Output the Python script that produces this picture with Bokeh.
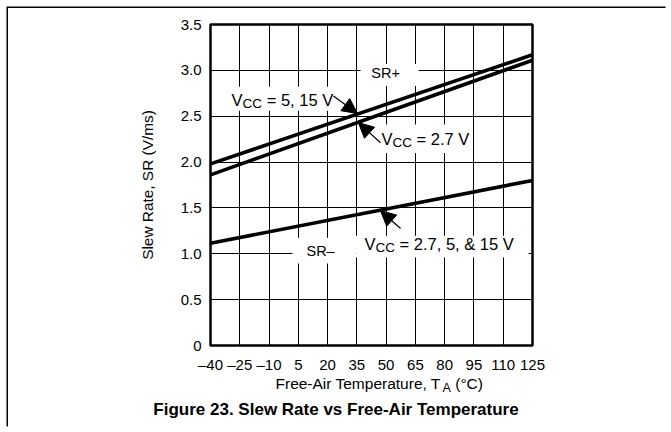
from bokeh.plotting import figure
from bokeh.models import FixedTicker, Label, Arrow, NormalHead, Column
from bokeh.embed import file_html
from bokeh.resources import INLINE

# ---------------- data ----------------
temps = [-40, 125]
sr_plus_5_15 = [1.98, 3.17]
sr_plus_2_7 = [1.86, 3.11]
sr_minus = [1.115, 1.80]

x_ticks = [-40, -25, -10, 5, 20, 35, 50, 65, 80, 95, 110, 125]
x_tick_labels = ["\u201340", "\u201325", "\u201310", "5", "20", "35", "50", "65", "80", "95", "110", "125"]
y_ticks = [0, 0.5, 1.0, 1.5, 2.0, 2.5, 3.0, 3.5]
y_tick_labels = ["0", "0.5", "1.0", "1.5", "2.0", "2.5", "3.0", "3.5"]

title_text = "Figure 23. Slew Rate vs Free-Air Temperature"
y_label = "Slew Rate, SR (V/ms)"

# ---------------- style / layout ----------------
FONT = "Liberation Sans"
W = 659
H1, H2 = 367, 53
TICK_FS = 15
AX_FS = 15.5
AX_SUB_FS = 12.5
YLAB_FS = 15.4
LAB_FS = 16.5
SUB_FS = 13.5
SR_FS = 14.5

# approximate Arial advance widths (1/1000 em)
AW = {" ": 278, "!": 278, "(": 333, ")": 333, ",": 278, "-": 333, ".": 278, "/": 278,
      "=": 584, "+": 584, "&": 667, "\u2013": 556, "\u00b0": 400,
      "A": 667, "C": 722, "F": 611, "R": 722, "S": 667, "T": 611, "V": 667,
      "a": 556, "e": 556, "i": 222, "l": 222, "m": 833, "p": 556, "r": 333,
      "s": 500, "t": 278, "u": 556, "w": 722}


def tw(s, size):
    return sum(AW.get(c, 556) for c in s) / 1000.0 * size


def composite(fig, x, y, pieces, align="left", sub_dy=-4):
    total = sum(tw(t, s) for t, s, _ in pieces)
    cur = 0.0 if align == "left" else -total / 2.0
    for txt, size, is_sub in pieces:
        lead = len(txt) - len(txt.lstrip(" "))
        cur += tw(" " * lead, size)
        core = txt.strip(" ")
        fig.add_layout(Label(x=x, y=y, x_offset=cur, y_offset=(sub_dy if is_sub else 0),
                             text=core, text_font=FONT, text_font_size=f"{size}px",
                             text_baseline="middle", text_align="left",
                             text_color="black"))
        cur += tw(txt.lstrip(" "), size)


# ---------------- main chart ----------------
p = figure(width=W, height=H1, x_range=(-40, 125), y_range=(0, 3.5),
           output_backend="svg", toolbar_location=None,
           min_border_left=202, min_border_right=W - 524,
           min_border_top=16, min_border_bottom=H1 - 337)
p.frame_align = False

p.outline_line_color = "black"
p.outline_line_width = 2.5
p.background_fill_color = "white"
p.border_fill_color = "white"

p.xaxis.ticker = FixedTicker(ticks=x_ticks)
p.yaxis.ticker = FixedTicker(ticks=y_ticks)
p.xgrid.ticker = FixedTicker(ticks=x_ticks)
p.ygrid.ticker = FixedTicker(ticks=y_ticks)
p.xaxis.major_label_overrides = dict(zip(x_ticks, x_tick_labels))
p.yaxis.major_label_overrides = dict(zip(y_ticks, y_tick_labels))

for ax in (p.xaxis[0], p.yaxis[0]):
    ax.axis_line_color = None
    ax.major_tick_line_color = None
    ax.minor_tick_line_color = None
    ax.major_tick_out = 0
    ax.major_tick_in = 0
    ax.minor_tick_out = 0
    ax.minor_tick_in = 0
    ax.major_label_text_font = FONT
    ax.major_label_text_font_size = f"{TICK_FS}px"
    ax.major_label_text_color = "black"
    ax.axis_label_text_font = FONT
    ax.axis_label_text_font_style = "normal"
    ax.axis_label_text_font_size = f"{YLAB_FS}px"
    ax.axis_label_text_color = "black"

p.xaxis.major_label_standoff = 10
p.yaxis.major_label_standoff = 9
p.yaxis.axis_label = y_label
p.yaxis.axis_label_standoff = 22

p.grid.grid_line_color = "black"
p.grid.grid_line_width = 1
p.grid.grid_line_alpha = 1

# white label backgrounds (data coords): left, right, top, bottom
boxes = [
    (36.9, 66.6, 3.07, 2.83),     # SR+
    (-32.3, 24.1, 2.82, 2.56),    # VCC = 5, 15 V
    (45.6, 94.3, 2.41, 2.10),     # VCC = 2.7 V
    (2.0, 34.3, 1.176, 0.893),    # SR-
    (34.3, 123.0, 1.198, 0.959),  # VCC = 2.7, 5, & 15 V
]
p.quad(left=[b[0] for b in boxes], right=[b[1] for b in boxes],
       top=[b[2] for b in boxes], bottom=[b[3] for b in boxes],
       fill_color="white", line_color=None)

# data lines
for ys in (sr_plus_5_15, sr_plus_2_7, sr_minus):
    p.line(temps, ys, line_color="black", line_width=3.6)

composite(p, -29.2, 2.68, [("V", LAB_FS, False), ("CC", SUB_FS, True), (" = 5, 15 V", LAB_FS, False)])
composite(p, 47.6, 2.255, [("V", LAB_FS, False), ("CC", SUB_FS, True), (" = 2.7 V", LAB_FS, False)])
composite(p, 38.9, 1.11, [("V", LAB_FS, False), ("CC", SUB_FS, True), (" = 2.7, 5, & 15 V", LAB_FS, False)])
composite(p, 49.7, 2.97, [("SR+", SR_FS, False)], align="center")
composite(p, 16.4, 1.035, [("SR\u2013", SR_FS, False)], align="center")

# arrows: (x_start, y_start, x_end, y_end)
arrows = [
    (23.0, 2.72, 35.3, 2.53),
    (47.1, 2.21, 35.8, 2.43),
    (57.4, 1.275, 47.1, 1.47),
]
for xs, ys, xe, ye in arrows:
    p.add_layout(Arrow(end=NormalHead(size=15, fill_color="black", line_color="black"),
                       x_start=xs, y_start=ys, x_end=xe, y_end=ye,
                       line_color="black", line_width=1.2))

# ---------------- caption strip (pixel-like coordinates) ----------------
q = figure(width=W, height=H2, x_range=(0, W), y_range=(H2, 0),
           output_backend="svg", toolbar_location=None,
           x_axis_type=None, y_axis_type=None,
           min_border=0, min_border_left=0, min_border_right=0,
           min_border_top=0, min_border_bottom=0)
q.frame_align = False
q.outline_line_color = None
q.grid.visible = False
q.background_fill_color = "white"
q.border_fill_color = "white"

composite(q, 267, 8, [("Free-Air Temperature, T", AX_FS, False), ("A", AX_SUB_FS, True),
                      (" (\u00b0C)", AX_FS, False)], sub_dy=-4)
q.add_layout(Label(x=327.5, y=34, text=title_text, text_font=FONT,
                   text_font_size="17px", text_font_style="bold",
                   text_align="center", text_baseline="middle", text_color="black"))

layout = Column(children=[p, q], margin=(8, 0, 0, 8), spacing=0,
                width=W, height=H1 + H2, sizing_mode="fixed",
                styles={"box-shadow": "-1.5px -1.5px 0 0 #000", "overflow": "visible"})

open("out.html", "w").write(file_html(layout, INLINE))
